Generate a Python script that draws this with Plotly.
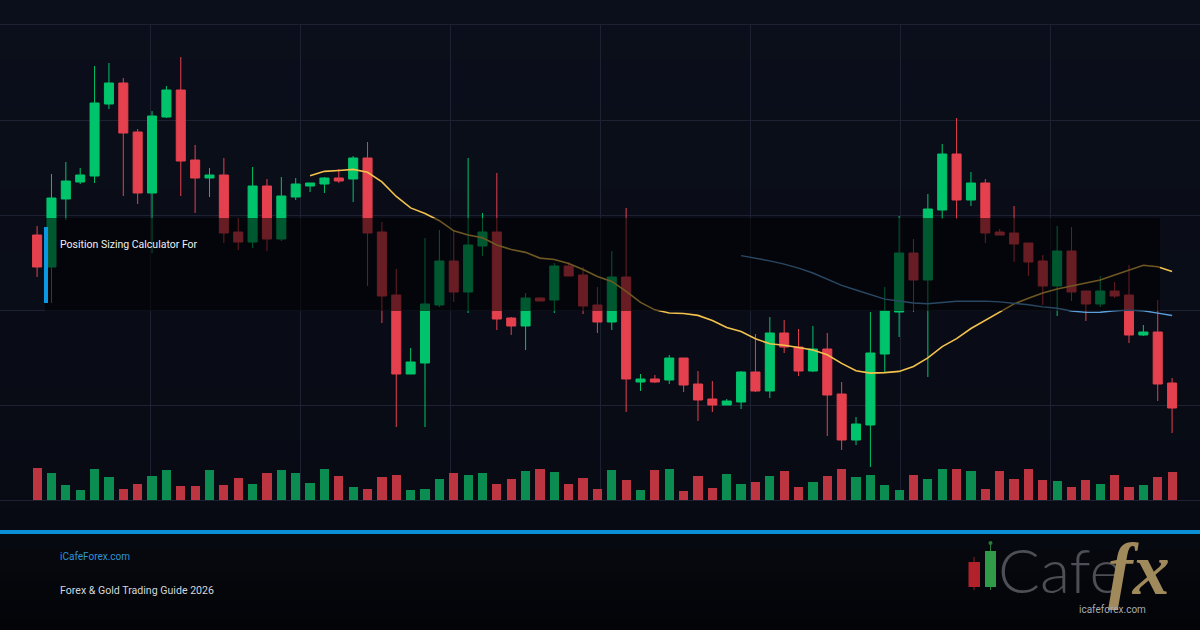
import plotly.graph_objects as go
import pandas as pd

# ---------------- data ----------------
idx = list(range(80))
open_ = [1.1265,1.1233,1.1301,1.1318,1.1324,1.1396,1.1417,1.1368,1.1307,1.1383,
         1.1410,1.1340,1.1322,1.1325,1.1268,1.1258,1.1314,1.1261,1.1303,1.1314,
         1.1316,1.1322,1.1321,1.1342,1.1268,1.1205,1.1126,1.1137,1.1195,1.1239,
         1.1208,1.1254,1.1268,1.1182,1.1174,1.1202,1.1200,1.1234,1.1225,1.1195,
         1.1178,1.1223,1.1118,1.1121,1.1120,1.1142,1.1116,1.1101,1.1095,1.1098,
         1.1128,1.1109,1.1167,1.1153,1.1129,1.1151,1.1106,1.1060,1.1075,1.1146,
         1.1188,1.1247,1.1220,1.1290,1.1346,1.1300,1.1317,1.1268,1.1267,1.1257,
         1.1239,1.1214,1.1249,1.1209,1.1196,1.1209,1.1205,1.1165,1.1168,1.1117]
high = [1.1274,1.1326,1.1338,1.1332,1.1434,1.1437,1.1422,1.1371,1.1389,1.1414,
        1.1443,1.1355,1.1332,1.1342,1.1282,1.1333,1.1321,1.1323,1.1322,1.1317,
        1.1323,1.1331,1.1344,1.1358,1.1278,1.1231,1.1152,1.1262,1.1270,1.1270,
        1.1342,1.1287,1.1327,1.1183,1.1207,1.1203,1.1237,1.1238,1.1233,1.1213,
        1.1249,1.1292,1.1126,1.1125,1.1145,1.1142,1.1129,1.1119,1.1101,1.1129,
        1.1166,1.1183,1.1180,1.1171,1.1174,1.1167,1.1118,1.1083,1.1188,1.1213,
        1.1284,1.1261,1.1306,1.1356,1.1382,1.1328,1.1321,1.1271,1.1294,1.1257,
        1.1245,1.1274,1.1273,1.1209,1.1224,1.1218,1.1235,1.1175,1.1200,1.1122]
low = [1.1223,1.1197,1.1280,1.1316,1.1317,1.1391,1.1304,1.1296,1.1247,1.1382,
       1.1304,1.1287,1.1303,1.1257,1.1250,1.1252,1.1249,1.1259,1.1300,1.1308,
       1.1307,1.1317,1.1298,1.1214,1.1177,1.1073,1.1126,1.1073,1.1193,1.1198,
       1.1187,1.1244,1.1170,1.1165,1.1150,1.1199,1.1187,1.1224,1.1186,1.1167,
       1.1170,1.1088,1.1109,1.1117,1.1116,1.1108,1.1079,1.1088,1.1095,1.1091,
       1.1108,1.1102,1.1147,1.1124,1.1128,1.1064,1.1050,1.1055,1.1033,1.1128,
       1.1163,1.1188,1.1123,1.1281,1.1281,1.1294,1.1257,1.1265,1.1238,1.1224,
       1.1195,1.1184,1.1199,1.1179,1.1193,1.1202,1.1157,1.1164,1.1099,1.1067]
close = [1.1233,1.1302,1.1319,1.1325,1.1397,1.1417,1.1367,1.1307,1.1384,1.1410,
         1.1339,1.1322,1.1325,1.1267,1.1258,1.1314,1.1261,1.1304,1.1316,1.1317,
         1.1322,1.1319,1.1342,1.1267,1.1204,1.1126,1.1138,1.1196,1.1239,1.1208,
         1.1255,1.1268,1.1181,1.1174,1.1202,1.1199,1.1234,1.1224,1.1194,1.1178,
         1.1223,1.1121,1.1121,1.1118,1.1142,1.1115,1.1100,1.1095,1.1099,1.1128,
         1.1109,1.1167,1.1153,1.1129,1.1151,1.1105,1.1060,1.1076,1.1147,1.1189,
         1.1247,1.1220,1.1291,1.1346,1.1300,1.1317,1.1267,1.1265,1.1256,1.1238,
         1.1214,1.1249,1.1208,1.1196,1.1209,1.1204,1.1165,1.1168,1.1116,1.1092]
volume = [323,273,150,100,313,230,113,160,240,303,
          140,140,303,150,223,160,273,303,273,173,
          313,240,130,113,233,250,103,113,213,273,
          250,273,160,213,293,313,283,160,223,113,
          303,203,103,303,313,93,240,123,263,160,
          183,240,293,130,183,240,313,230,250,150,
          103,250,213,313,313,293,113,293,213,313,
          203,193,133,203,160,250,130,150,230,280]

title_text = "Position Sizing Calculator For"
site_text = "iCafeForex.com"
guide_text = "Forex & Gold Trading Guide 2026"

# ---------------- styles ----------------
W, H = 1200, 630
GREEN = "#00c46b"
RED = "#e5404e"
VOL_GREEN = "#0b8c50"
VOL_RED = "#bd3540"
GRID = "#1c2232"

ma20 = pd.Series(close).rolling(20).mean()
ma50 = pd.Series(close).rolling(50).mean()

px_per_bar = 14.367
first_px = 37.1
x0 = -first_px / px_per_bar
x1 = x0 + W / px_per_bar

plot_top, plot_bot = 25, 500
ydom = [1 - plot_bot / H, 1 - plot_top / H]
ymin, ymax = 1.1000, 1.1475

vol_colors = [VOL_GREEN if c >= o else VOL_RED for o, c in zip(open_, close)]

fig = go.Figure()
fig.add_trace(go.Bar(x=idx, y=volume, marker=dict(color=vol_colors, line=dict(width=0)),
                     width=0.64, yaxis="y2", hoverinfo="skip"))
fig.add_trace(go.Candlestick(
    x=idx, open=open_, high=high, low=low, close=close,
    increasing=dict(line=dict(color=GREEN, width=1), fillcolor=GREEN),
    decreasing=dict(line=dict(color=RED, width=1), fillcolor=RED),
    whiskerwidth=0))
fig.add_trace(go.Scatter(x=idx, y=ma20, mode="lines", line=dict(color="#f3c24c", width=1.6)))
fig.add_trace(go.Scatter(x=idx, y=ma50, mode="lines", line=dict(color="#5c9fdc", width=1.4)))

shapes = []
# background gradient
n = 63
top_c = (11, 15, 27)
mid_c = (8, 11, 20)
bot_c = (3, 4, 7)
for i in range(n):
    t = i * H / n + H / n / 2
    if t < 500:
        f = t / 500
        c = tuple(round(top_c[k] + (mid_c[k] - top_c[k]) * f) for k in range(3))
    else:
        f = (t - 500) / 130
        c = tuple(round(mid_c[k] + (bot_c[k] - mid_c[k]) * f) for k in range(3))
    shapes.append(dict(type="rect", xref="paper", yref="paper", x0=0, x1=1,
                       y0=1 - (i + 1) / n - 0.002, y1=1 - i / n,
                       fillcolor="rgb(%d,%d,%d)" % c, line=dict(width=0), layer="below"))

def py(p):
    return 1 - p / H

def pxx(p):
    return p / W

# overlay box
shapes.append(dict(type="rect", xref="paper", yref="paper", x0=pxx(45), x1=pxx(1160),
                   y0=py(311), y1=py(218), fillcolor="rgba(0,0,0,0.55)", line=dict(width=0), layer="above"))
shapes.append(dict(type="rect", xref="paper", yref="paper", x0=pxx(44), x1=pxx(48),
                   y0=py(303), y1=py(227), fillcolor="#0a98e2", line=dict(width=0), layer="above"))
# separator
shapes.append(dict(type="rect", xref="paper", yref="paper", x0=0, x1=1,
                   y0=py(534), y1=py(530), fillcolor="#0a8fd6", line=dict(width=0), layer="above"))
# logo candles
shapes.append(dict(type="line", xref="paper", yref="paper", x0=pxx(974), x1=pxx(974),
                   y0=py(590), y1=py(557), line=dict(color="#8b1c20", width=1)))
shapes.append(dict(type="rect", xref="paper", yref="paper", x0=pxx(968.5), x1=pxx(980),
                   y0=py(587), y1=py(562), fillcolor="#b3222a", line=dict(width=0)))
shapes.append(dict(type="line", xref="paper", yref="paper", x0=pxx(990.5), x1=pxx(990.5),
                   y0=py(590), y1=py(543), line=dict(color="#2a7a3c", width=1)))
shapes.append(dict(type="circle", xref="paper", yref="paper", x0=pxx(988.5), x1=pxx(992.5),
                   y0=py(545), y1=py(541), fillcolor="#2a7a3c", line=dict(width=0)))
shapes.append(dict(type="rect", xref="paper", yref="paper", x0=pxx(985), x1=pxx(996),
                   y0=py(587), y1=py(551), fillcolor="#2f9a47", line=dict(width=0)))

annotations = [
    dict(text=title_text, x=pxx(58), y=py(245), xref="paper", yref="paper", xanchor="left",
         yanchor="middle", showarrow=False, font=dict(family="Roboto", size=10.5, color="#eef0f3")),
    dict(text=site_text, x=pxx(58), y=py(556), xref="paper", yref="paper", xanchor="left",
         yanchor="middle", showarrow=False, font=dict(family="Roboto", size=10, color="#2f93d6")),
    dict(text=guide_text, x=pxx(58), y=py(590), xref="paper", yref="paper", xanchor="left",
         yanchor="middle", showarrow=False, font=dict(family="Roboto", size=10.6, color="#d3d7dd")),
    dict(text="Cafe", x=pxx(996), y=py(569), xref="paper", yref="paper", xanchor="left",
         yanchor="middle", showarrow=False,
         font=dict(family="Lato", size=62, color="#4c4f55", weight=300)),
    dict(text="fx", x=pxx(1106), y=py(569), xref="paper", yref="paper", xanchor="left",
         yanchor="middle", showarrow=False,
         font=dict(family="Liberation Serif", size=74, color="#a08a5c", weight="bold", style="italic")),
    dict(text="icafeforex.com", x=pxx(1112), y=py(609), xref="paper", yref="paper", xanchor="center",
         yanchor="middle", showarrow=False, font=dict(family="Roboto", size=10, color="#a5abb3")),
]

fig.update_layout(
    width=W, height=H, margin=dict(l=0, r=0, t=0, b=0),
    paper_bgcolor="#080b14", plot_bgcolor="rgba(0,0,0,0)",
    showlegend=False, boxgap=0.1, bargap=0,
    shapes=shapes, annotations=annotations,
    xaxis=dict(range=[x0, x1], domain=[0, 1], tick0=x0, dtick=150 / px_per_bar,
               showgrid=True, gridcolor=GRID, gridwidth=1, showticklabels=False, ticks="",
               zeroline=False, rangeslider=dict(visible=False), showline=True, mirror=True,
               linecolor=GRID, linewidth=1),
    yaxis=dict(range=[ymin, ymax], domain=ydom, tickmode="array",
               tickvals=[ymin + (ymax - ymin) * k / 5 for k in range(6)],
               showgrid=True, gridcolor=GRID, gridwidth=1, showticklabels=False, ticks="",
               zeroline=False, showline=False),
    yaxis2=dict(range=[0, 4750], overlaying="y", showgrid=False, showticklabels=False,
                zeroline=False, ticks=""),
)

fig.write_html("out.html")
